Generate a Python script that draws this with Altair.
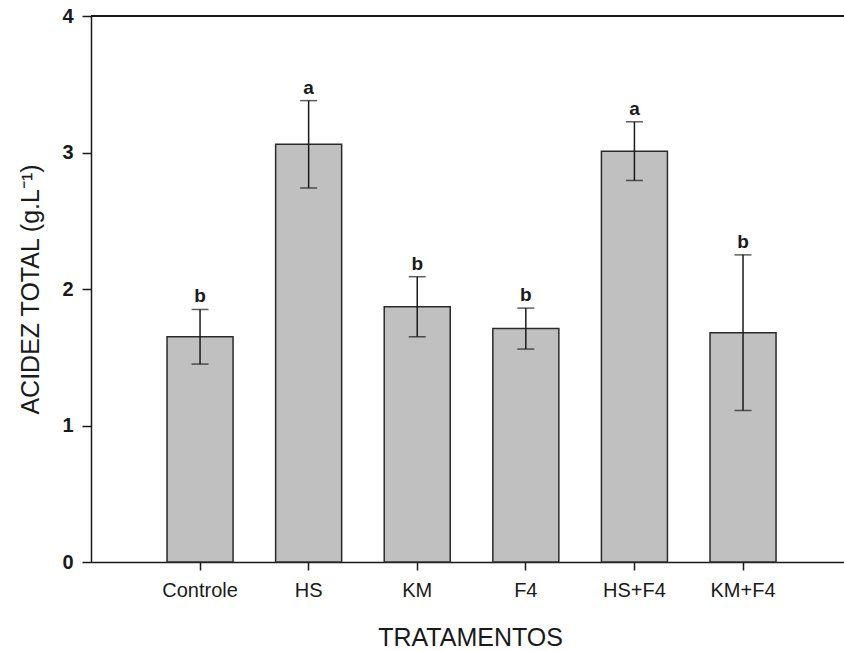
import altair as alt
import pandas as pd

# Treatments and measured total acidity (mean and error)
tratamentos = ["Controle", "HS", "KM", "F4", "HS+F4", "KM+F4"]
media = [1.65, 3.06, 1.87, 1.71, 3.01, 1.68]
erro = [0.20, 0.32, 0.22, 0.15, 0.215, 0.57]
letras = ["b", "a", "b", "b", "a", "b"]

df = pd.DataFrame({
    "trat": tratamentos,
    "media": media,
    "inf": [m - e for m, e in zip(media, erro)],
    "sup": [m + e for m, e in zip(media, erro)],
    "letra": letras,
})

W, H = 753, 546
FONT = "Liberation Sans"
INK = "#1a1a1a"

x = alt.X(
    "trat:N",
    sort=tratamentos,
    scale=alt.Scale(paddingInner=0.392, paddingOuter=0.663, align=0.528),
    axis=alt.Axis(
        title="TRATAMENTOS",
        titleFont=FONT, titleFontSize=25, titleFontWeight="normal", titleColor=INK,
        titleX=379, titleY=83, titleBaseline="alphabetic", titleAlign="center",
        labelFont=FONT, labelFontSize=20, labelColor=INK, labelAngle=0,
        labelPadding=10, tickSize=8, tickWidth=1.5, tickColor=INK,
        domainColor=INK, domainWidth=1.5, grid=False,
    ),
)

y_axis = alt.Axis(
    title="ACIDEZ TOTAL (g.L⁻¹)",
    titleFont=FONT, titleFontSize=25, titleFontWeight="normal", titleColor=INK,
    titleAngle=-90, titleX=-61, titleY=H / 2, titleAlign="center", titleBaseline="middle",
    values=[0, 1, 2, 3, 4], format="d",
    labelFont=FONT, labelFontSize=20, labelFontWeight="bold", labelColor=INK,
    labelPadding=9, tickSize=9, tickWidth=1.5, tickColor=INK,
    domainColor=INK, domainWidth=1.5, grid=False,
)
y_scale = alt.Scale(domain=[0, 4], nice=False)

base = alt.Chart(df)

bars = base.mark_bar(color="#c0c0c0", stroke="#2a2a2a", strokeWidth=1.5).encode(
    x=x,
    y=alt.Y("media:Q", scale=y_scale, axis=y_axis),
)

whisker = base.mark_rule(color=INK, strokeWidth=1.5).encode(
    x=alt.X("trat:N", sort=tratamentos),
    y="inf:Q",
    y2="sup:Q",
)

cap_hi = base.mark_tick(color=INK, thickness=1.5, size=17).encode(
    x=alt.X("trat:N", sort=tratamentos), y="sup:Q"
)
cap_lo = base.mark_tick(color=INK, thickness=1.5, size=17).encode(
    x=alt.X("trat:N", sort=tratamentos), y="inf:Q"
)

rotulos = base.mark_text(
    font=FONT, fontSize=19, fontWeight="bold", color=INK,
    baseline="alphabetic", dy=-7,
).encode(
    x=alt.X("trat:N", sort=tratamentos),
    y="sup:Q",
    text="letra:N",
)

# top frame line of the plot
topo = base.mark_rule(color=INK, strokeWidth=1.5).encode(
    x=alt.value(0), x2=alt.value(W), y=alt.value(0)
)

chart = alt.layer(bars, whisker, cap_hi, cap_lo, rotulos, topo).properties(
    width=W,
    height=H,
    autosize=alt.AutoSizeParams(type="none"),
    padding={"left": 91, "top": 16, "right": 0, "bottom": 88},
).configure_view(stroke=None).configure(background="white")

chart.save("out.html", embed_options={"renderer": "svg", "actions": False})
